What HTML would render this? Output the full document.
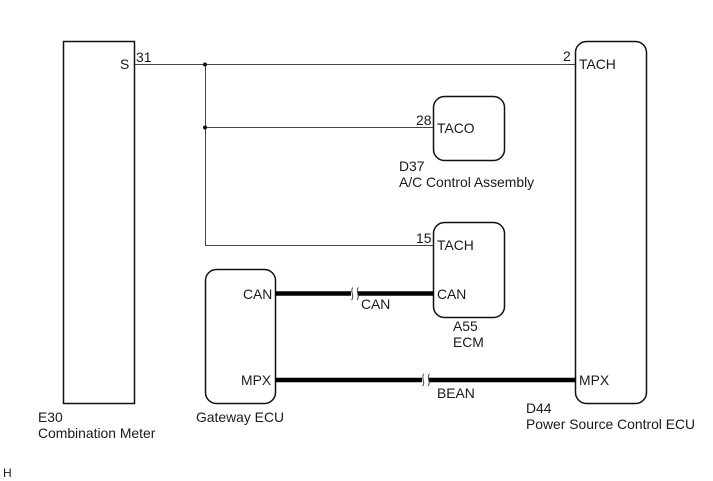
<!DOCTYPE html>
<html><head><meta charset="utf-8"><style>
html,body{margin:0;padding:0;background:#fff}
svg{display:block}
text{font-family:"Liberation Sans",sans-serif;font-size:13.9px;fill:#1a1a1a}
</style></head><body>
<svg width="713" height="481" viewBox="0 0 713 481" xmlns="http://www.w3.org/2000/svg">
<g fill="none" stroke="#111" stroke-width="1.5">
<rect x="63.5" y="41.5" width="71" height="362"/>
<rect x="433.5" y="96.5" width="71" height="64" rx="11"/>
<rect x="433.5" y="222.5" width="71" height="95" rx="11"/>
<rect x="205.5" y="269.5" width="70" height="134" rx="11"/>
<rect x="575.5" y="41.5" width="71" height="362" rx="11"/>
</g>
<g fill="none" stroke="#444" stroke-width="1">
<path d="M135 64.5H575M205.5 64.5V245.5H433M205.5 127.5H433"/>
</g>
<circle cx="205" cy="64.5" r="2" fill="#111"/>
<circle cx="205" cy="127.5" r="2" fill="#111"/>
<g stroke="#000" stroke-width="4.5" fill="none">
<path d="M275 293.500H351M358 293.500H433"/>
<path d="M275 380H422M429 380H575"/>
</g>
<g fill="none" stroke="#444" stroke-width="1">
<path d="M353 287.500C349.500 291 355 296 351.500 300M358.500 287.500C355 291 360.500 296 357 300"/>
<path d="M424 374C420.500 377.500 426 382.500 422.500 386M429.500 374C426 377.500 431.500 382.500 428 386"/>
</g>
<text x="120" y="69">S</text>
<text x="136" y="62">31</text>
<text x="563" y="61">2</text>
<text x="579" y="69">TACH</text>
<text x="416" y="125">28</text>
<text x="437" y="133">TACO</text>
<text x="399" y="171">D37</text>
<text x="399" y="187">A/C Control Assembly</text>
<text x="416" y="243">15</text>
<text x="437" y="250">TACH</text>
<text x="243" y="299">CAN</text>
<text x="437" y="299">CAN</text>
<text x="361" y="309">CAN</text>
<text x="453" y="331">A55</text>
<text x="453" y="347">ECM</text>
<text x="241" y="385">MPX</text>
<text x="579" y="385">MPX</text>
<text x="437" y="398">BEAN</text>
<text x="38" y="422">E30</text>
<text x="38" y="438">Combination Meter</text>
<text x="196" y="422">Gateway ECU</text>
<text x="526" y="413">D44</text>
<text x="526" y="429">Power Source Control ECU</text>
<text x="3" y="477" style="font-size:12px">H</text>
</svg>
</body></html>
